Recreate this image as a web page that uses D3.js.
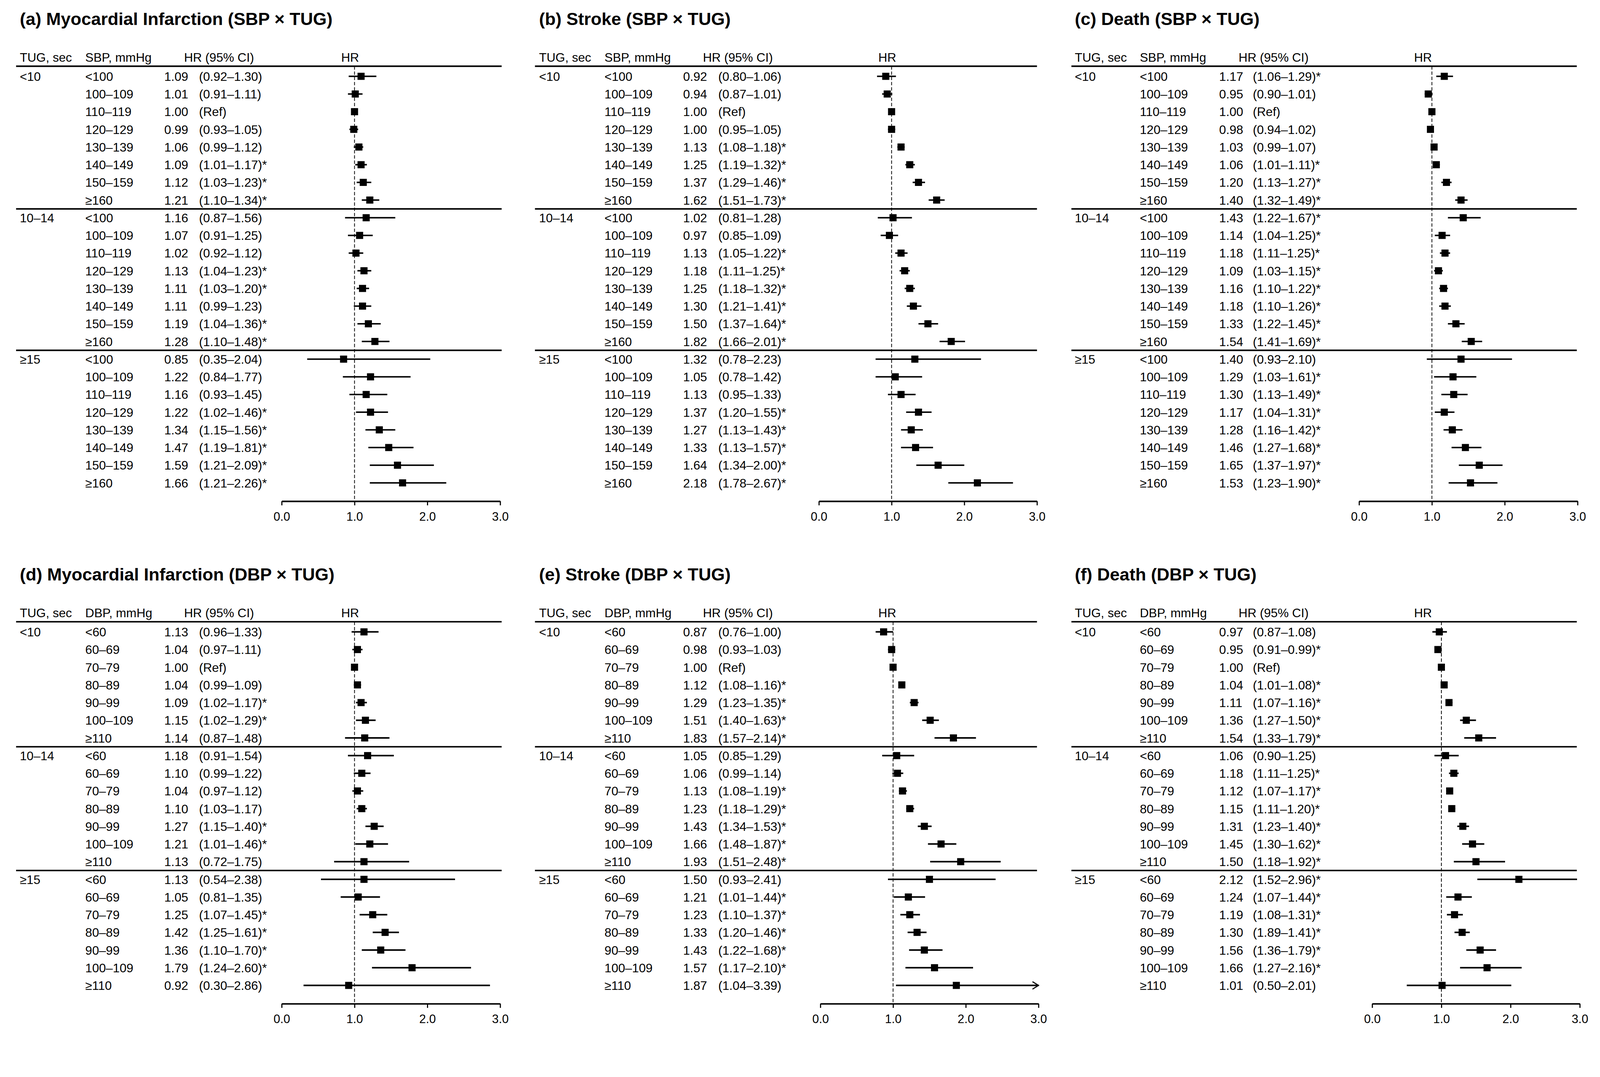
<!DOCTYPE html>
<html>
<head>
<meta charset="utf-8">
<script src="https://cdn.jsdelivr.net/npm/d3@7"></script>
<style>
  html, body { margin: 0; padding: 0; background: #fff; overflow: hidden; }
  svg { display: block; background: #fff; width: 100%; height: auto; }
  text { font-family: "Liberation Sans", Arial, sans-serif; fill: #000; }
</style>
</head>
<body>
<svg id="lienzo" viewBox="0 0 4277 2757" preserveAspectRatio="xMinYMin meet"></svg>
<script>
// ---- data ----
const tugGroups = ["<10", "10–14", "≥15"];
const sbpCats = ["<100", "100–109", "110–119", "120–129", "130–139", "140–149", "150–159", "≥160"];
const dbpCats = ["<60", "60–69", "70–79", "80–89", "90–99", "100–109", "≥110"];
const axisTicks = [0, 1, 2, 3];

// (a) Myocardial infarction, SBP x TUG
const miSbpHR  = [1.09, 1.01, 1.00, 0.99, 1.06, 1.09, 1.12, 1.21,  1.16, 1.07, 1.02, 1.13, 1.11, 1.11, 1.19, 1.28,  0.85, 1.22, 1.16, 1.22, 1.34, 1.47, 1.59, 1.66];
const miSbpLo  = [0.92, 0.91, null, 0.93, 0.99, 1.01, 1.03, 1.10,  0.87, 0.91, 0.92, 1.04, 1.03, 0.99, 1.04, 1.10,  0.35, 0.84, 0.93, 1.02, 1.15, 1.19, 1.21, 1.21];
const miSbpHi  = [1.30, 1.11, null, 1.05, 1.12, 1.17, 1.23, 1.34,  1.56, 1.25, 1.12, 1.23, 1.20, 1.23, 1.36, 1.48,  2.04, 1.77, 1.45, 1.46, 1.56, 1.81, 2.09, 2.26];
const miSbpSig = [0, 0, 0, 0, 0, 1, 1, 1,  0, 0, 0, 1, 1, 0, 1, 1,  0, 0, 0, 1, 1, 1, 1, 1];

// (b) Stroke, SBP x TUG
const strokeSbpHR  = [0.92, 0.94, 1.00, 1.00, 1.13, 1.25, 1.37, 1.62,  1.02, 0.97, 1.13, 1.18, 1.25, 1.30, 1.50, 1.82,  1.32, 1.05, 1.13, 1.37, 1.27, 1.33, 1.64, 2.18];
const strokeSbpLo  = [0.80, 0.87, null, 0.95, 1.08, 1.19, 1.29, 1.51,  0.81, 0.85, 1.05, 1.11, 1.18, 1.21, 1.37, 1.66,  0.78, 0.78, 0.95, 1.20, 1.13, 1.13, 1.34, 1.78];
const strokeSbpHi  = [1.06, 1.01, null, 1.05, 1.18, 1.32, 1.46, 1.73,  1.28, 1.09, 1.22, 1.25, 1.32, 1.41, 1.64, 2.01,  2.23, 1.42, 1.33, 1.55, 1.43, 1.57, 2.00, 2.67];
const strokeSbpSig = [0, 0, 0, 0, 1, 1, 1, 1,  0, 0, 1, 1, 1, 1, 1, 1,  0, 0, 0, 1, 1, 1, 1, 1];

// (c) Death, SBP x TUG
const deathSbpHR  = [1.17, 0.95, 1.00, 0.98, 1.03, 1.06, 1.20, 1.40,  1.43, 1.14, 1.18, 1.09, 1.16, 1.18, 1.33, 1.54,  1.40, 1.29, 1.30, 1.17, 1.28, 1.46, 1.65, 1.53];
const deathSbpLo  = [1.06, 0.90, null, 0.94, 0.99, 1.01, 1.13, 1.32,  1.22, 1.04, 1.11, 1.03, 1.10, 1.10, 1.22, 1.41,  0.93, 1.03, 1.13, 1.04, 1.16, 1.27, 1.37, 1.23];
const deathSbpHi  = [1.29, 1.01, null, 1.02, 1.07, 1.11, 1.27, 1.49,  1.67, 1.25, 1.25, 1.15, 1.22, 1.26, 1.45, 1.69,  2.10, 1.61, 1.49, 1.31, 1.42, 1.68, 1.97, 1.90];
const deathSbpSig = [1, 0, 0, 0, 0, 1, 1, 1,  1, 1, 1, 1, 1, 1, 1, 1,  0, 1, 1, 1, 1, 1, 1, 1];

// (d) Myocardial infarction, DBP x TUG
const miDbpHR  = [1.13, 1.04, 1.00, 1.04, 1.09, 1.15, 1.14,  1.18, 1.10, 1.04, 1.10, 1.27, 1.21, 1.13,  1.13, 1.05, 1.25, 1.42, 1.36, 1.79, 0.92];
const miDbpLo  = [0.96, 0.97, null, 0.99, 1.02, 1.02, 0.87,  0.91, 0.99, 0.97, 1.03, 1.15, 1.01, 0.72,  0.54, 0.81, 1.07, 1.25, 1.10, 1.24, 0.30];
const miDbpHi  = [1.33, 1.11, null, 1.09, 1.17, 1.29, 1.48,  1.54, 1.22, 1.12, 1.17, 1.40, 1.46, 1.75,  2.38, 1.35, 1.45, 1.61, 1.70, 2.60, 2.86];
const miDbpSig = [0, 0, 0, 0, 1, 1, 0,  0, 0, 0, 0, 1, 1, 0,  0, 0, 1, 1, 1, 1, 0];

// (e) Stroke, DBP x TUG
const strokeDbpHR  = [0.87, 0.98, 1.00, 1.12, 1.29, 1.51, 1.83,  1.05, 1.06, 1.13, 1.23, 1.43, 1.66, 1.93,  1.50, 1.21, 1.23, 1.33, 1.43, 1.57, 1.87];
const strokeDbpLo  = [0.76, 0.93, null, 1.08, 1.23, 1.40, 1.57,  0.85, 0.99, 1.08, 1.18, 1.34, 1.48, 1.51,  0.93, 1.01, 1.10, 1.20, 1.22, 1.17, 1.04];
const strokeDbpHi  = [1.00, 1.03, null, 1.16, 1.35, 1.63, 2.14,  1.29, 1.14, 1.19, 1.29, 1.53, 1.87, 2.48,  2.41, 1.44, 1.37, 1.46, 1.68, 2.10, 3.39];
const strokeDbpSig = [0, 0, 0, 1, 1, 1, 1,  0, 0, 1, 1, 1, 1, 1,  0, 1, 1, 1, 1, 1, 0];

// (f) Death, DBP x TUG
const deathDbpHR  = [0.97, 0.95, 1.00, 1.04, 1.11, 1.36, 1.54,  1.06, 1.18, 1.12, 1.15, 1.31, 1.45, 1.50,  2.12, 1.24, 1.19, 1.30, 1.56, 1.66, 1.01];
const deathDbpLo  = [0.87, 0.91, null, 1.01, 1.07, 1.27, 1.33,  0.90, 1.11, 1.07, 1.11, 1.23, 1.30, 1.18,  1.52, 1.07, 1.08, 1.19, 1.36, 1.27, 0.50];
const deathDbpHi  = [1.08, 0.99, null, 1.08, 1.16, 1.50, 1.79,  1.25, 1.25, 1.17, 1.20, 1.40, 1.62, 1.92,  2.96, 1.44, 1.31, 1.41, 1.79, 2.16, 2.01];
const deathDbpSig = [0, 1, 0, 1, 1, 1, 1,  0, 1, 1, 1, 1, 1, 1,  1, 1, 1, 1, 1, 1, 0];
// lower limit as printed in the table (differs from the plotted one)
const deathDbpLoPrinted = { 17: "1.89" };

// ---- layout (per column / row of panels) ----
const columns = [
  { tugX: 53,   bpX: 228,  valX: 439,  ciX: 532,  hrHeadX: 492,  hrX: 912,  line: [43, 1341] },
  { tugX: 1441, bpX: 1616, valX: 1826, ciX: 1920, hrHeadX: 1879, hrX: 2348, line: [1430, 2772] },
  { tugX: 2873, bpX: 3047, valX: 3259, ciX: 3349, hrHeadX: 3311, hrX: 3780, line: [2864, 4215] }
];
const rowStep = 47.25;
const fontSize = 33;

const svg = d3.select('#lienzo');

function drawPanel(p) {
  const col = columns[p.col];
  const top = p.top;
  const cats = p.cats;
  const n = cats.length * tugGroups.length;
  const row0 = top + 204;
  const yRow = i => row0 + i * rowStep;
  const axisY = yRow(n - 1) + 49;
  const headLineY = top + 177;

  const g = svg.append('g');
  const x = d3.scaleLinear().domain([0, 3]).range(p.range);

  // title
  g.append('text')
    .attr('x', col.tugX)
    .attr('y', top + 67)
    .attr('font-size', '47px')
    .attr('font-weight', 'bold')
    .text(p.title);

  // header texts
  const heads = [
    [col.tugX, 'TUG, sec'],
    [col.bpX, p.bpName + ', mmHg'],
    [col.hrHeadX, 'HR (95% CI)'],
    [col.hrX, 'HR']
  ];
  g.selectAll('.head')
    .data(heads)
    .enter()
    .append('text')
    .attr('x', d => d[0])
    .attr('y', top + 165)
    .attr('font-size', fontSize + 'px')
    .text(d => d[1]);

  // header line and group separators
  const hLines = [headLineY, yRow(cats.length - 0.5), yRow(2 * cats.length - 0.5)];
  g.selectAll('.sep')
    .data(hLines)
    .enter()
    .append('line')
    .attr('x1', col.line[0])
    .attr('x2', col.line[1])
    .attr('y1', d => d)
    .attr('y2', d => d)
    .attr('stroke', '#000')
    .attr('stroke-width', 4);

  // reference line at HR = 1
  g.append('line')
    .attr('x1', x(1)).attr('x2', x(1))
    .attr('y1', headLineY).attr('y2', axisY)
    .attr('stroke', '#000')
    .attr('stroke-width', 2)
    .attr('stroke-dasharray', '9,5');

  // rows
  const rows = d3.range(n).map(i => ({
    i: i,
    group: Math.floor(i / cats.length),
    cat: cats[i % cats.length],
    hr: p.hr[i],
    lo: p.lo[i],
    hi: p.hi[i],
    sig: p.sig[i]
  }));

  // TUG group labels
  g.selectAll('.tug')
    .data(tugGroups)
    .enter()
    .append('text')
    .attr('x', col.tugX)
    .attr('y', (d, k) => yRow(k * cats.length) + 12)
    .attr('font-size', fontSize + 'px')
    .text(d => d);

  const rowText = g.selectAll('.row')
    .data(rows)
    .enter()
    .append('g');

  rowText.append('text')
    .attr('x', col.bpX)
    .attr('y', d => yRow(d.i) + 12)
    .attr('font-size', fontSize + 'px')
    .text(d => d.cat);

  rowText.append('text')
    .attr('x', col.valX)
    .attr('y', d => yRow(d.i) + 12)
    .attr('font-size', fontSize + 'px')
    .text(d => d.hr.toFixed(2));

  rowText.append('text')
    .attr('x', col.ciX)
    .attr('y', d => yRow(d.i) + 12)
    .attr('font-size', fontSize + 'px')
    .text(d => {
      if (d.lo === null) return '(Ref)';
      const loTxt = (p.loPrinted && p.loPrinted[d.i]) || d.lo.toFixed(2);
      return '(' + loTxt + '–' + d.hi.toFixed(2) + ')' + (d.sig ? '*' : '');
    });

  // confidence intervals
  const withCI = rows.filter(d => d.lo !== null);
  g.selectAll('.ci')
    .data(withCI)
    .enter()
    .append('line')
    .attr('x1', d => x(d.lo))
    .attr('x2', d => x(Math.min(d.hi, 3)))
    .attr('y1', d => yRow(d.i))
    .attr('y2', d => yRow(d.i))
    .attr('stroke', '#000')
    .attr('stroke-width', 4);

  // arrow when the interval runs past the axis
  g.selectAll('.arrow')
    .data(withCI.filter(d => d.hi > 3))
    .enter()
    .append('path')
    .attr('d', d => {
      const ax = x(3), ay = yRow(d.i);
      return 'M' + (ax - 16) + ',' + (ay - 10) + 'L' + ax + ',' + ay + 'L' + (ax - 16) + ',' + (ay + 10);
    })
    .attr('fill', 'none')
    .attr('stroke', '#000')
    .attr('stroke-width', 3);

  // point estimates
  const sq = 19;
  g.selectAll('.pt')
    .data(rows)
    .enter()
    .append('rect')
    .attr('x', d => x(d.hr) - sq / 2)
    .attr('y', d => yRow(d.i) - sq / 2)
    .attr('width', sq)
    .attr('height', sq)
    .attr('fill', '#000');

  // x axis
  const axis = g.append('g')
    .attr('transform', 'translate(0,' + axisY + ')')
    .call(d3.axisBottom(x)
      .tickValues(axisTicks)
      .tickFormat(d3.format('.1f'))
      .tickSize(11)
      .tickSizeOuter(0)
      .tickPadding(18));
  axis.select('.domain').attr('stroke', '#000').attr('stroke-width', 4);
  axis.selectAll('.tick line').attr('stroke', '#000').attr('stroke-width', 3);
  axis.selectAll('.tick text')
    .attr('fill', '#000')
    .attr('font-size', '32px')
    .attr('font-family', '"Liberation Sans", Arial, sans-serif');
}

drawPanel({ col: 0, top: 0, title: '(a) Myocardial Infarction (SBP × TUG)', bpName: 'SBP', cats: sbpCats,
  hr: miSbpHR, lo: miSbpLo, hi: miSbpHi, sig: miSbpSig, range: [753, 1337] });
drawPanel({ col: 1, top: 0, title: '(b) Stroke (SBP × TUG)', bpName: 'SBP', cats: sbpCats,
  hr: strokeSbpHR, lo: strokeSbpLo, hi: strokeSbpHi, sig: strokeSbpSig, range: [2189, 2772] });
drawPanel({ col: 2, top: 0, title: '(c) Death (SBP × TUG)', bpName: 'SBP', cats: sbpCats,
  hr: deathSbpHR, lo: deathSbpLo, hi: deathSbpHi, sig: deathSbpSig, range: [3633, 4217] });
drawPanel({ col: 0, top: 1485, title: '(d) Myocardial Infarction (DBP × TUG)', bpName: 'DBP', cats: dbpCats,
  hr: miDbpHR, lo: miDbpLo, hi: miDbpHi, sig: miDbpSig, range: [753, 1337] });
drawPanel({ col: 1, top: 1485, title: '(e) Stroke (DBP × TUG)', bpName: 'DBP', cats: dbpCats,
  hr: strokeDbpHR, lo: strokeDbpLo, hi: strokeDbpHi, sig: strokeDbpSig, range: [2193, 2776] });
drawPanel({ col: 2, top: 1485, title: '(f) Death (DBP × TUG)', bpName: 'DBP', cats: dbpCats,
  hr: deathDbpHR, lo: deathDbpLo, hi: deathDbpHi, sig: deathDbpSig, range: [3668, 4223],
  loPrinted: deathDbpLoPrinted });
</script>
</body>
</html>
